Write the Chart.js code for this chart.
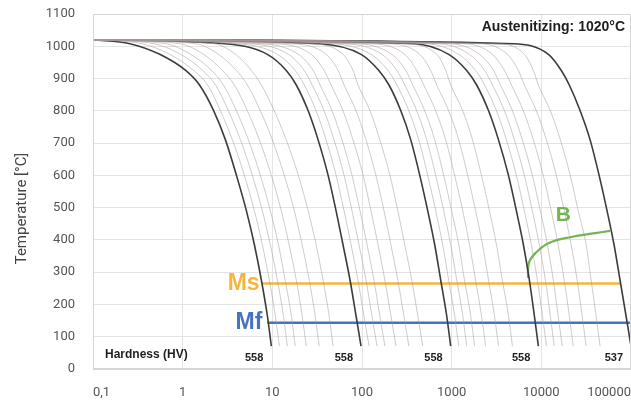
<!DOCTYPE html>
<html>
<head>
<meta charset="utf-8">
<script src="https://cdn.jsdelivr.net/npm/chart.js@4.4.1/dist/chart.umd.min.js"></script>
<style>
  html, body { margin: 0; padding: 0; background: #fff; overflow: hidden; }
  #wrap { width: 631px; height: 401px; position: relative; }
</style>
</head>
<body>
<div id="wrap"><canvas id="cct"></canvas></div>
<script>
// temperature levels shared by every cooling curve (°C)
const coolTemps = [1020, 1008, 975, 925, 880, 800, 710, 600, 490, 385, 275, 165, 71];

// time (s) at each temperature level
const darkTimes = [
  [0.1, 0.258, 0.555, 1.08, 1.54, 2.22, 3.00, 3.98, 5.14, 6.31, 7.55, 8.80, 9.75],
  [0.1, 2.93, 8.80, 14.3, 18.5, 25.1, 32.4, 41.9, 51.4, 61.4, 73.6, 85.8, 97.5],
  [0.1, 33.3, 97.5, 154, 200, 271, 350, 441, 541, 647, 755, 880, 975],
  [0.1, 378, 926, 1470, 1900, 2580, 3330, 4300, 5270, 6310, 7360, 8360, 9260],
  [0.1, 4880, 12000, 16700, 20500, 27100, 35000, 44100, 54100, 64700, 75500, 88000, 100000]
];

const greyTimes = [
  [0.1, 0.350, 0.717, 1.33, 1.90, 2.64, 3.59, 4.88, 6.31, 7.74, 9.26, 10.8, 12.0],
  [0.1, 0.476, 0.950, 1.67, 2.33, 3.24, 4.41, 5.99, 7.74, 9.50, 11.4, 13.3, 14.7],
  [0.1, 0.647, 1.23, 2.10, 2.85, 3.98, 5.41, 7.36, 9.50, 11.7, 13.9, 16.3, 18.0],
  [0.1, 0.926, 1.71, 2.78, 3.78, 5.27, 7.17, 9.75, 12.6, 15.4, 18.5, 21.5, 23.9],
  [0.1, 1.39, 2.51, 3.98, 5.27, 7.36, 10.0, 13.6, 17.6, 21.5, 25.8, 30.0, 33.3],
  [0.1, 2.21, 3.88, 5.84, 7.55, 10.5, 14.3, 19.5, 25.1, 30.8, 36.8, 43.0, 47.6],

  [0.1, 3.98, 11.4, 18.0, 22.7, 30.8, 39.8, 51.4, 63.1, 75.5, 90.3, 105, 120],
  [0.1, 5.41, 15.1, 22.7, 27.8, 37.8, 48.8, 63.1, 77.4, 92.6, 111, 129, 147],
  [0.1, 7.36, 19.5, 28.5, 34.1, 46.4, 59.9, 77.4, 95.0, 114, 136, 158, 180],
  [0.1, 10.5, 27.1, 37.8, 45.2, 61.4, 79.4, 103, 126, 151, 180, 210, 239],
  [0.1, 15.8, 39.8, 54.1, 63.1, 85.8, 111, 143, 176, 210, 251, 293, 333],
  [0.1, 25.1, 61.4, 79.4, 90.3, 123, 158, 205, 251, 300, 359, 419, 476],

  [0.1, 45.2, 126, 195, 245, 333, 430, 541, 664, 794, 926, 1080, 1200],
  [0.1, 61.4, 167, 245, 300, 408, 527, 664, 815, 975, 1140, 1330, 1470],
  [0.1, 83.6, 215, 308, 368, 501, 647, 815, 1000, 1200, 1390, 1630, 1800],
  [0.1, 120, 300, 408, 488, 664, 858, 1080, 1330, 1580, 1850, 2150, 2390],
  [0.1, 180, 441, 584, 681, 926, 1200, 1510, 1850, 2210, 2580, 3000, 3330],
  [0.1, 285, 681, 858, 975, 1330, 1710, 2150, 2640, 3160, 3680, 4300, 4760],

  [0.1, 514, 1200, 1850, 2330, 3160, 4080, 5270, 6470, 7740, 9030, 10300, 11400],
  [0.1, 699, 1580, 2330, 2850, 3880, 5010, 6470, 7940, 9500, 11100, 12600, 13900],
  [0.1, 950, 2050, 2930, 3500, 4760, 6140, 7940, 9750, 11700, 13600, 15400, 17100],
  [0.1, 1360, 2850, 3880, 4640, 6310, 8150, 10500, 12900, 15400, 18000, 20500, 22700],
  [0.1, 2050, 4190, 5550, 6470, 8800, 11400, 14700, 18000, 21500, 25100, 28500, 31600],
  [0.1, 3240, 6470, 8150, 9260, 12600, 16300, 21000, 25800, 31600, 35900, 40800, 45200]
];

const hardness = [558, 558, 558, 558, 537];

const msTemp = 265;
const msTimes = [7.6, 75500];
const mfTemp = 143;
const mfTimes = [8.8, 100000];

const bTimes = [7100, 7250, 8580, 12000, 21500, 39800, 58400];
const bTemps = [282, 328, 359, 390, 409, 421, 428];

const xTicks = [0.1, 1, 10, 100, 1000, 10000, 100000];
const yTicks = [0, 100, 200, 300, 400, 500, 600, 700, 800, 900, 1000, 1100];

const narrow = '"Liberation Sans Narrow", "Liberation Sans", sans-serif';

function curve(times, color, width) {
  return {
    data: times.map((t, i) => ({ x: t, y: coolTemps[i] })),
    borderColor: color,
    borderWidth: width,
    pointRadius: 0,
    cubicInterpolationMode: 'monotone',
    fill: false
  };
}

const datasets = [];
greyTimes.forEach(t => datasets.push(curve(t, 'rgba(165,150,150,0.5)', 1)));
darkTimes.forEach(t => datasets.push(curve(t, '#3c3c3c', 1.6)));
datasets.push({
  data: msTimes.map(t => ({ x: t, y: msTemp })),
  borderColor: '#F4B63F', borderWidth: 2.5, pointRadius: 0
});
datasets.push({
  data: mfTimes.map(t => ({ x: t, y: mfTemp })),
  borderColor: '#4472C4', borderWidth: 2.5, pointRadius: 0
});
datasets.push({
  data: bTimes.map((t, i) => ({ x: t, y: bTemps[i] })),
  borderColor: '#74B454', borderWidth: 2.2, pointRadius: 0, tension: 0.4
});

// labels, hardness row, axis title and frame
const overlay = {
  id: 'overlay',
  afterDatasetsDraw(chart) {
    const { ctx, chartArea: a, scales: { x, y } } = chart;
    ctx.save();
    ctx.strokeStyle = '#d6d6d6';
    ctx.lineWidth = 1;
    ctx.strokeRect(a.left + 0.5, a.top + 0.5, a.width - 1, a.height - 1);

    ctx.textBaseline = 'middle';
    ctx.fillStyle = '#1e1e1e';
    ctx.font = 'bold 12px ' + narrow;
    ctx.textAlign = 'left';
    ctx.fillText('Hardness (HV)', a.left + 12, a.bottom - 14);
    ctx.font = 'bold 11px ' + narrow;
    ctx.textAlign = 'right';
    hardness.forEach((h, i) => {
      const end = darkTimes[i][darkTimes[i].length - 1];
      const px = Math.min(x.getPixelForValue(end), a.right);
      ctx.fillText(String(h), px - 8, a.bottom - 11);
    });

    ctx.font = 'bold 14px ' + narrow;
    ctx.fillText('Austenitizing: 1020°C', a.right - 6, a.top + 13);

    ctx.font = 'bold 23px ' + narrow;
    ctx.fillStyle = '#F4B63F';
    ctx.fillText('Ms', x.getPixelForValue(msTimes[0]) - 2, y.getPixelForValue(msTemp));
    ctx.fillStyle = '#4472C4';
    ctx.fillText('Mf', x.getPixelForValue(mfTimes[0]) - 5, y.getPixelForValue(mfTemp));
    ctx.font = 'bold 21px ' + narrow;
    ctx.fillStyle = '#74B454';
    ctx.textAlign = 'center';
    ctx.fillText('B', x.getPixelForValue(bTimes[3]) + 15, y.getPixelForValue(bTemps[3]) - 28);

    // y axis title, sitting a little below the middle as in the original
    ctx.translate(22, (a.top + a.bottom) / 2 + 17);
    ctx.rotate(-Math.PI / 2);
    ctx.fillStyle = '#444';
    ctx.font = '15px Roboto';
    ctx.fillText('Temperature [°C]', 0, 0);
    ctx.restore();
  }
};

new Chart(document.getElementById('cct'), {
  type: 'line',
  data: { datasets },
  options: {
    responsive: true,
    maintainAspectRatio: false,
    animation: false,
    layout: { padding: { top: 14, right: 0, bottom: 0, left: 8 } },
    plugins: { legend: { display: false }, tooltip: { enabled: false } },
    scales: {
      x: {
        type: 'logarithmic',
        min: 0.1,
        max: 100000,
        afterBuildTicks: s => { s.ticks = xTicks.map(v => ({ value: v })); },
        afterFit: s => {
          s.height = 32;
          s.paddingLeft = 0;
          s.paddingRight = 0;
        },
        grid: { color: '#e4e4e4', drawTicks: false },
        border: { color: '#d6d6d6' },
        ticks: {
          align: 'inner',
          padding: 16,
          maxRotation: 0,
          autoSkip: false,
          color: '#555',
          font: { family: 'Roboto', size: 13 },
          callback: v => v === 0.1 ? '0,1' : String(v)
        }
      },
      y: {
        min: 0,
        max: 1100,
        afterBuildTicks: s => { s.ticks = yTicks.map(v => ({ value: v })); },
        afterFit: s => {
          s.width = 85;
          s.paddingTop = 0;
          s.paddingBottom = 0;
        },
        grid: { color: '#e4e4e4', drawTicks: false },
        border: { color: '#d6d6d6' },
        ticks: {
          padding: 18,
          color: '#555',
          font: { family: 'Roboto', size: 13 },
          callback: v => String(v)
        }
      }
    }
  },
  plugins: [overlay]
});
</script>
</body>
</html>
